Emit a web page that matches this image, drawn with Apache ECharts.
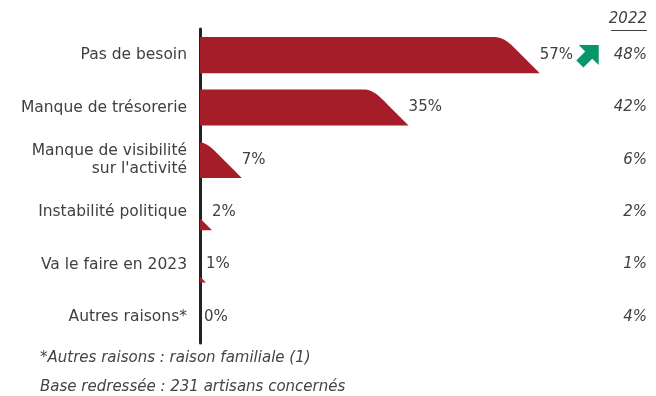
<!DOCTYPE html>
<html>
<head>
<meta charset="utf-8">
<script src="https://cdn.jsdelivr.net/npm/echarts@6/dist/echarts.min.js"></script>
<style>
  html, body { margin: 0; padding: 0; background: #fff; }
  #chart { width: 656px; height: 396px; }
</style>
</head>
<body>
<div id="chart"></div>
<script>
(function(){
  // data
  const categories = ['Pas de besoin', 'Manque de trésorerie', "Manque de visibilité\nsur l'activité",
                      'Instabilité politique', 'Va le faire en 2023', 'Autres raisons*'];
  const values2023 = [57, 35, 7, 2, 1, 0];
  const values2022 = ['48%', '42%', '6%', '2%', '1%', '4%'];
  const trend      = ['up', null, null, null, null, null];
  const footnotes  = ['*Autres raisons : raison familiale (1)', 'Base redressée : 231 artisans concernés'];

  const FONT = '"DejaVu Sans", "Noto Sans", sans-serif';
  const RED = '#a51d29';
  const GREEN = '#079669';
  const TXT = '#404040';

  // profile of the bar's right end: 45° slope at the bottom, rounded shoulder on top
  function barShape(x0, xe, top, bottom){
    const r = 18, drop = r / 2;
    const L = (bottom - top) - drop;
    const T = L + r;
    const topY = x => {
      const u = xe - x;
      if (u <= L) return bottom - u;
      if (u <= T) { const d = T - u; return top + d * d / (2 * r); }
      return top;
    };
    const pts = [[x0, bottom], [x0, Math.min(bottom, topY(x0))]];
    const N = 24;
    for (let k = 0; k <= N; k++) {
      const x = xe - T + T * k / N;
      if (x > x0) pts.push([x, Math.min(bottom, topY(x))]);
    }
    pts.push([xe, bottom]);
    return pts;
  }

  function arrowUp(cx, cy){
    // cx, cy: top-right corner of the arrow head
    const h = 20, hw = 5, len = 12.5, k = Math.SQRT1_2;
    const mx = cx - h / 2, my = cy + h / 2;
    const p1 = [mx - hw * k, my - hw * k], p2 = [mx + hw * k, my + hw * k];
    const off = [-len * k, len * k];
    return [[cx, cy], [cx - h, cy], p1, [p1[0] + off[0], p1[1] + off[1]],
            [p2[0] + off[0], p2[1] + off[1]], p2, [cx, cy + h]];
  }

  const chart = echarts.init(document.getElementById('chart'), null, { renderer: 'canvas' });
  chart.setOption({
    animation: false,
    grid: { left: 200, right: 9, top: 29, bottom: 53 },
    xAxis: { type: 'value', min: 0, max: 75, show: false },
    yAxis: [{
      type: 'category', data: categories, inverse: true,
      axisLine: { show: true, lineStyle: { color: '#222', width: 3 } },
      axisTick: { show: false },
      axisLabel: { margin: 13, color: TXT, fontFamily: FONT, fontSize: 15.5, lineHeight: 18, align: 'right' }
    }, {
      type: 'category', data: values2022, inverse: true, position: 'right',
      axisLine: { show: false }, axisTick: { show: false },
      axisLabel: { margin: 0, align: 'right', color: TXT, fontFamily: FONT, fontSize: 15, fontStyle: 'italic' }
    }],
    graphic: [
      { type: 'text', right: 9, top: 12, style: { text: '2022', fill: TXT, font: 'italic 15px ' + FONT } },
      { type: 'rect', right: 9, top: 30, shape: { width: 36, height: 1 }, style: { fill: TXT } },
      { type: 'text', left: 40, top: 351, style: { text: footnotes[0], fill: '#444', font: 'italic 15px ' + FONT } },
      { type: 'text', left: 40, top: 380, style: { text: footnotes[1], fill: '#444', font: 'italic 15px ' + FONT } }
    ],
    series: [{
      type: 'custom',
      data: values2023.map((v, i) => [v, i]),
      encode: { x: 0, y: 1 },
      renderItem: function(params, api){
        const v = api.value(0), i = api.value(1);
        const x0 = api.coord([0, i])[0];
        const p = api.coord([v, i]);
        const xe = p[0], yc = p[1];
        const H = api.size([0, 1])[1] * 0.69;
        const top = yc - H / 2, bottom = yc + H / 2;
        const children = [];
        if (v > 0) {
          children.push({ type: 'polygon', shape: { points: barShape(x0, xe, top, bottom) }, style: { fill: RED } });
        }
        children.push({
          type: 'text',
          style: { text: v + '%', x: Math.max(xe, x0 + 4), y: yc, verticalAlign: 'middle', align: 'left',
                   fill: TXT, font: '15px ' + FONT }
        });
        if (trend[i] === 'up') {
          children.push({ type: 'polygon', shape: { points: arrowUp(xe + 59, top + 8) }, style: { fill: GREEN } });
        }
        return { type: 'group', children };
      }
    }]
  });
})();
</script>
</body>
</html>
